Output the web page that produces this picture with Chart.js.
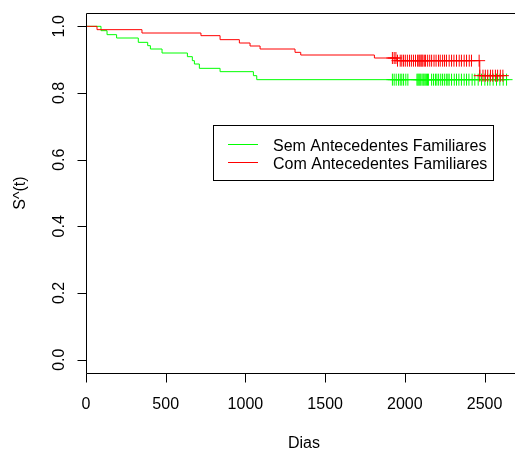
<!DOCTYPE html>
<html>
<head>
<meta charset="utf-8">
<title>Kaplan-Meier</title>
<script src="https://cdn.jsdelivr.net/npm/chart.js@4/dist/chart.umd.min.js"></script>
<style>
  html, body { margin: 0; padding: 0; background: #fff; }
  canvas { display: block; }
</style>
</head>
<body>
<canvas id="km-chart" width="515" height="450"></canvas>
<script>
/* Kaplan-Meier curves, drawn R-style (base graphics look) */

var SERIES_LABELS = ['Sem Antecedentes Familiares', 'Com Antecedentes Familiares'];

// event times (days) and survival right after each event
var SEM_TIMES = [0, 94, 132, 192, 328, 387, 404, 477, 636, 667, 680, 711, 841, 1050, 1071];
var SEM_SURV = [1, 0.987, 0.975, 0.965, 0.952, 0.942, 0.932, 0.920, 0.909, 0.897, 0.887, 0.874, 0.864, 0.852, 0.840];
var SEM_CENSOR = [1922, 1933, 1946, 1960, 1971, 1981, 1992, 2006, 2019, 2076, 2082, 2088, 2094,
  2100, 2108, 2115, 2121, 2128, 2135, 2142, 2148, 2168, 2180, 2192, 2201, 2212, 2225, 2236,
  2248, 2260, 2270, 2278, 2293, 2310, 2324, 2339, 2355, 2372, 2387, 2402, 2422, 2439, 2460,
  2481, 2502, 2519, 2534, 2554, 2575, 2596, 2617, 2638];

var COM_TIMES = [0, 69, 351, 721, 841, 962, 1029, 1092, 1311, 1347, 1809, 1950, 2470];
var COM_SURV = [1, 0.990, 0.980, 0.972, 0.960, 0.950, 0.941, 0.932, 0.922, 0.914, 0.905, 0.897, 0.852];
var COM_CENSOR = [1922, 1933, 1944, 1954, 1971, 1981, 1992, 2003, 2016, 2029, 2041, 2054, 2067,
  2080, 2088, 2094, 2101, 2107, 2113, 2122, 2130, 2143, 2156, 2168, 2183, 2196, 2211, 2222,
  2237, 2249, 2261, 2278, 2293, 2308, 2324, 2341, 2355, 2372, 2387, 2404, 2418, 2466, 2470,
  2490, 2505, 2520, 2537, 2551, 2568, 2582, 2599, 2615];

var X_TICKS = [0, 500, 1000, 1500, 2000, 2500];
var Y_TICKS = [0, 0.2, 0.4, 0.6, 0.8, 1.0];
var Y_TICK_LABELS = ['0.0', '0.2', '0.4', '0.6', '0.8', '1.0'];
var X_TITLE = 'Dias';
var Y_TITLE = 'S^(t)';

var GREEN = '#00ff00';
var RED = '#ff0000';
var INK = '#000000';
var FONT = '16px "Liberation Sans", Arial, Helvetica, sans-serif';

function survAt(times, surv, t) {
  var s = surv[0];
  for (var i = 0; i < times.length; i++) {
    if (times[i] <= t) s = surv[i];
  }
  return s;
}

function curvePoints(times, surv, censor) {
  var pts = times.map(function(t, i) { return { x: t, y: surv[i] }; });
  var last = censor[censor.length - 1];
  pts.push({ x: last, y: survAt(times, surv, last) });
  return pts;
}

function censorPoints(times, surv, censor) {
  return censor.map(function(t) { return { x: t, y: survAt(times, surv, t) }; });
}

function crisp(v) { return Math.round(v) + 0.5; }

// axes, box, titles and legend, the way R's plot() lays them out
var rAxesPlugin = {
  id: 'rAxes',
  afterDraw: function(chart) {
    var ctx = chart.ctx;
    var area = chart.chartArea;
    var xs = chart.scales.x;
    var ys = chart.scales.y;
    var left = crisp(area.left), top = crisp(area.top), bottom = crisp(area.bottom);
    var tick = 9;

    ctx.save();
    ctx.strokeStyle = INK;
    ctx.lineWidth = 1;
    ctx.beginPath();
    ctx.moveTo(chart.width, top);
    ctx.lineTo(left, top);
    ctx.lineTo(left, bottom);
    ctx.lineTo(chart.width, bottom);
    X_TICKS.forEach(function(v) {
      var px = crisp(xs.getPixelForValue(v));
      ctx.moveTo(px, bottom);
      ctx.lineTo(px, bottom + tick);
    });
    Y_TICKS.forEach(function(v) {
      var py = crisp(ys.getPixelForValue(v));
      ctx.moveTo(left, py);
      ctx.lineTo(left - tick, py);
    });
    ctx.stroke();

    ctx.fillStyle = INK;
    ctx.font = FONT;
    ctx.textAlign = 'center';
    ctx.textBaseline = 'alphabetic';
    X_TICKS.forEach(function(v) {
      ctx.fillText(String(v), xs.getPixelForValue(v), 409);
    });
    ctx.fillText(X_TITLE, 304, 447.5);

    Y_TICKS.forEach(function(v, i) {
      ctx.save();
      ctx.translate(63.5, ys.getPixelForValue(v));
      ctx.rotate(-Math.PI / 2);
      ctx.fillText(Y_TICK_LABELS[i], 0, 0);
      ctx.restore();
    });
    ctx.save();
    ctx.translate(25, (area.top + area.bottom) / 2);
    ctx.rotate(-Math.PI / 2);
    ctx.fillText(Y_TITLE, 0, 0);
    ctx.restore();

    // legend box
    ctx.strokeRect(213.5, 125.5, 280, 55);
    var rows = [{ label: SERIES_LABELS[0], color: GREEN, y: 144.5 },
                { label: SERIES_LABELS[1], color: RED, y: 162.5 }];
    rows.forEach(function(r) {
      ctx.strokeStyle = r.color;
      ctx.beginPath();
      ctx.moveTo(228, r.y);
      ctx.lineTo(258, r.y);
      ctx.stroke();
      ctx.textAlign = 'left';
      ctx.fillText(r.label, 273, r.y + 6.3);
    });
    ctx.restore();
  }
};

function lineSet(label, color, pts, order) {
  return {
    label: label, data: pts, borderColor: color, borderWidth: 1,
    pointRadius: 0, fill: false, stepped: 'before', tension: 0, order: order
  };
}

function censorSet(label, color, pts, order) {
  return {
    label: label, data: pts, borderColor: color, backgroundColor: color,
    showLine: false, pointStyle: 'cross', pointRadius: 6, pointBorderWidth: 1,
    pointHoverRadius: 6, order: order
  };
}

new Chart(document.getElementById('km-chart').getContext('2d'), {
  type: 'line',
  data: {
    datasets: [
      lineSet(SERIES_LABELS[1], RED, curvePoints(COM_TIMES, COM_SURV, COM_CENSOR), 1),
      censorSet(SERIES_LABELS[1], RED, censorPoints(COM_TIMES, COM_SURV, COM_CENSOR), 1),
      lineSet(SERIES_LABELS[0], GREEN, curvePoints(SEM_TIMES, SEM_SURV, SEM_CENSOR), 2),
      censorSet(SERIES_LABELS[0], GREEN, censorPoints(SEM_TIMES, SEM_SURV, SEM_CENSOR), 2)
    ]
  },
  options: {
    responsive: false,
    animation: false,
    devicePixelRatio: 1,
    layout: { autoPadding: false, padding: { left: 86, top: 13, right: 0, bottom: 77 } },
    scales: {
      x: { type: 'linear', min: 0, max: 2691, display: false },
      y: { type: 'linear', min: -0.04, max: 1.04, display: false }
    },
    plugins: { legend: { display: false }, tooltip: { enabled: false } }
  },
  plugins: [rAxesPlugin]
});
</script>
</body>
</html>
